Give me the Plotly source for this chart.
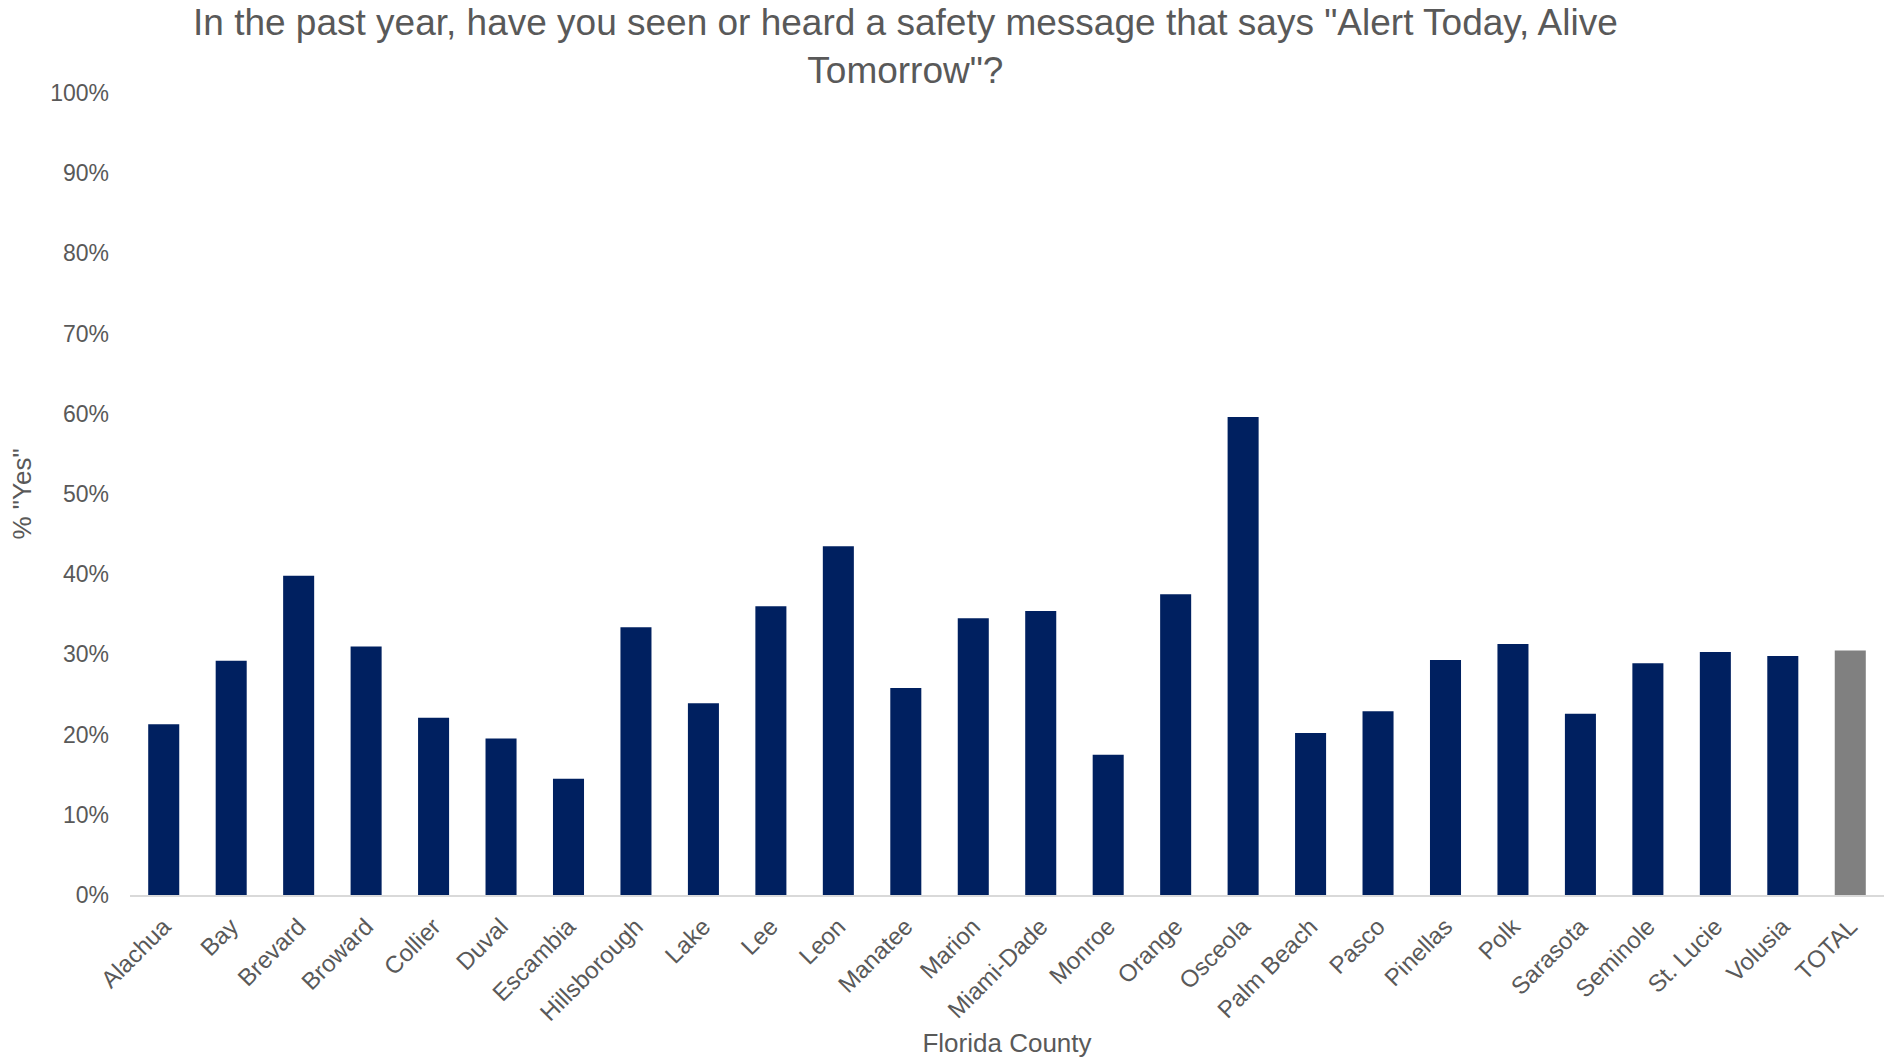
import plotly.graph_objects as go

counties = ["Alachua", "Bay", "Brevard", "Broward", "Collier", "Duval", "Escambia",
            "Hillsborough", "Lake", "Lee", "Leon", "Manatee", "Marion", "Miami-Dade",
            "Monroe", "Orange", "Osceola", "Palm Beach", "Pasco", "Pinellas", "Polk",
            "Sarasota", "Seminole", "St. Lucie", "Volusia", "TOTAL"]
pct_yes = [0.213, 0.292, 0.398, 0.310, 0.221, 0.195, 0.145,
           0.334, 0.239, 0.360, 0.435, 0.258, 0.345, 0.354,
           0.175, 0.375, 0.596, 0.202, 0.229, 0.293, 0.313,
           0.226, 0.289, 0.303, 0.298, 0.305]
y_ticks = [0, 0.1, 0.2, 0.3, 0.4, 0.5, 0.6, 0.7, 0.8, 0.9, 1.0]

NAVY = "#002060"
GREY_BAR = "#808080"
TEXT = "#595959"
FONT = "Liberation Sans, Arial, sans-serif"

bar_colors = [GREY_BAR if c == "TOTAL" else NAVY for c in counties]

fig = go.Figure(go.Bar(x=counties, y=pct_yes, marker=dict(color=bar_colors, line=dict(width=0))))

fig.update_layout(
    width=1890, height=1058,
    margin=dict(l=130, r=6, t=93, b=163),
    plot_bgcolor="white", paper_bgcolor="white",
    bargap=0.54,
    font=dict(family=FONT, color=TEXT),
    showlegend=False,
    annotations=[dict(
        text='In the past year, have you seen or heard a safety message that says "Alert Today, Alive<br>Tomorrow"?',
        xref="paper", yref="paper", x=0.442, y=1.0585,
        xanchor="center", yanchor="middle", showarrow=False,
        font=dict(size=37, color=TEXT, family=FONT),
    )],
)

fig.update_xaxes(
    range=[-0.5, 25.5], automargin=False,
    showgrid=False, showline=True, linecolor="#d9d9d9", linewidth=2,
    ticks="", tickangle=-45, ticklabelstandoff=6,
    tickfont=dict(size=24, color=TEXT),
    title=dict(text="Florida County", font=dict(size=26, color=TEXT), standoff=14),
)
fig.update_yaxes(
    range=[0, 1.0], tickvals=y_ticks, tickformat=".0%", automargin=False,
    showgrid=False, showline=False, zeroline=False, ticks="",
    ticklabelstandoff=20,
    tickfont=dict(size=23, color=TEXT),
    title=dict(text='% "Yes"', font=dict(size=26, color=TEXT), standoff=11),
)

fig.write_html("out.html")
